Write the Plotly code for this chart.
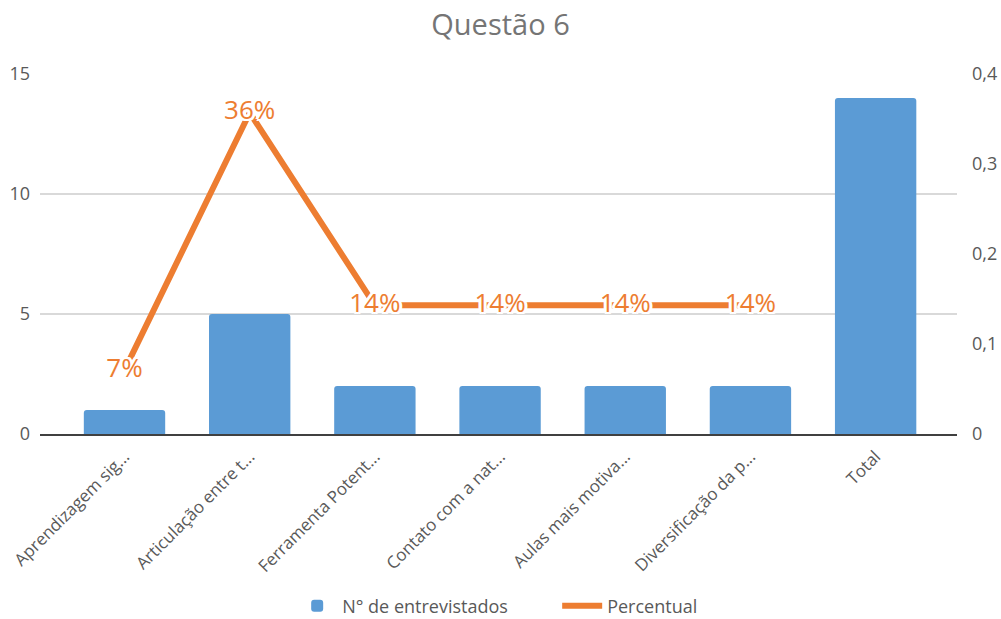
import plotly.graph_objects as go

categories = ["Aprendizagem sig...", "Articulação entre t...", "Ferramenta Potent...",
              "Contato com a nat...", "Aulas mais motiva...", "Diversificação da p...", "Total"]
entrevistados = [1, 5, 2, 2, 2, 2, 14]
percent_categories = categories[:6]
percentual = [0.071, 0.357, 0.143, 0.143, 0.143, 0.143]
percent_labels = ["7%", "36%", "14%", "14%", "14%", "14%"]

FONT = "Open Sans, Noto Sans, sans-serif"
halo = ", ".join(f"white {dx}px {dy}px 0px" for dx, dy in
                 [(2, 0), (-2, 0), (0, 2), (0, -2), (2, 2), (-2, -2), (2, -2), (-2, 2), (3, 0), (-3, 0)])

fig = go.Figure()
fig.add_trace(go.Bar(
    x=categories, y=entrevistados, name="N° de entrevistados",
    marker=dict(color="#5B9BD5", cornerradius=3, line=dict(width=0)),
    width=0.65, yaxis="y",
))
fig.add_trace(go.Scatter(
    x=percent_categories, y=percentual, name="Percentual", yaxis="y2",
    mode="lines+text", text=percent_labels, textposition="middle center",
    line=dict(color="#ED7D31", width=6),
    textfont=dict(color="#ED7D31", size=26, family=FONT, shadow=halo),
    cliponaxis=False,
))

fig.update_layout(
    width=1001, height=619,
    margin=dict(l=40, r=44, t=74, b=185, autoexpand=False),
    paper_bgcolor="white", plot_bgcolor="white",
    separators=",.",
    title=dict(text="Questão 6", x=0.5, xanchor="center", y=0.96, yanchor="middle",
               font=dict(size=29, color="#757575", family=FONT)),
    font=dict(family=FONT, color="#595959", size=16),
    bargap=0.35,
    xaxis=dict(range=[-0.675, 6.65], tickangle=-45, showgrid=False, ticks="",
               showline=True, linecolor="#404040", linewidth=2, automargin=False,
               ticklabelstandoff=4,
               tickfont=dict(size=17, color="#595959")),
    yaxis=dict(range=[0, 15], dtick=5, showgrid=True, gridcolor="#D9D9D9", gridwidth=2,
               zeroline=False, showline=False, ticks="", automargin=False,
               ticklabelstandoff=9,
               tickfont=dict(size=18, color="#595959")),
    yaxis2=dict(range=[0, 0.4], dtick=0.1, overlaying="y", side="right", showgrid=False,
                zeroline=False, showline=False, ticks="", automargin=False,
                ticklabelstandoff=14,
                tickfont=dict(size=18, color="#595959")),
    legend=dict(orientation="h", x=0.275, xanchor="left",
                yref="container", y=0.021, yanchor="middle",
                font=dict(size=18, color="#595959"), itemwidth=40,
                entrywidth=210),
    showlegend=True,
)

fig.write_html("out.html")
